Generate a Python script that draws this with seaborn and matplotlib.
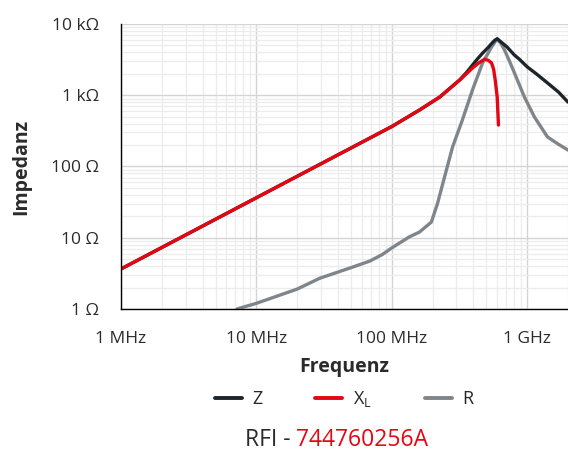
import matplotlib
matplotlib.use("Agg")
import matplotlib.pyplot as plt
import matplotlib.ticker as mticker
import pandas as pd
import seaborn as sns

# Impedanzkurven RFI 744760256A (Frequenz in MHz, Werte in Ohm)
z_freq = [1, 10, 100, 160, 226, 318, 357, 394, 430, 468, 510, 545, 575, 600, 640, 710,
          800, 875, 1000, 1170, 1410, 1700, 2000]
z_val = [3.64, 36.4, 364, 620, 945, 1650, 2100, 2650, 3250, 3900, 4600, 5300, 5900, 6200,
         5600, 4750, 3700, 3200, 2500, 1990, 1490, 1110, 800]

xl_freq = [1, 10, 100, 160, 226, 318, 394, 440, 483, 515, 545, 565, 580, 600, 613]
xl_val = [3.64, 36.4, 364, 620, 945, 1640, 2410, 2850, 3200, 3100, 2840, 2300, 1640, 945, 382]

r_freq = [7.2, 10, 20, 29.4, 50, 68.8, 85, 100, 135, 160, 196, 218, 245, 281, 332, 394,
          468, 545, 600, 640, 680, 740, 805, 953, 1130, 1410, 1700, 2000]
r_val = [1.0, 1.2, 1.9, 2.7, 3.8, 4.7, 5.8, 7.2, 10.3, 12, 16.6, 30.7, 71, 188, 450, 1185,
         2840, 4750, 6200, 5300, 4300, 3000, 2050, 945, 495, 260, 205, 170]

labels = ["Z", "X$_\\mathrm{L}$", "R"]
colors = ["#1d252c", "#e30613", "#7e868c"]

df = pd.concat([
    pd.DataFrame({"f": [v * 1e6 for v in z_freq], "val": z_val, "serie": labels[0]}),
    pd.DataFrame({"f": [v * 1e6 for v in xl_freq], "val": xl_val, "serie": labels[1]}),
    pd.DataFrame({"f": [v * 1e6 for v in r_freq], "val": r_val, "serie": labels[2]}),
])

sns.set_style("white")
plt.rcParams["font.family"] = ["Open Sans", "DejaVu Sans"]
plt.rcParams["mathtext.fontset"] = "custom"
plt.rcParams["mathtext.rm"] = "Open Sans"

fig = plt.figure(figsize=(5.68, 4.53), dpi=100)
ax = fig.add_axes([0.213, 0.318, 0.787, 0.629])

# R zuerst, dann Z, dann X_L oben
for name in [labels[2], labels[0], labels[1]]:
    sub = df[df["serie"] == name]
    sns.lineplot(data=sub, x="f", y="val", ax=ax, color=colors[labels.index(name)],
                 linewidth=2.4, sort=False, estimator=None, legend=False)

ax.set_xscale("log")
ax.set_yscale("log")
ax.set_xlim(1e6, 2e9)
ax.set_ylim(1, 1e4)

ax.set_xticks([1e6, 1e7, 1e8, 1e9])
ax.set_xticklabels(["1 MHz", "10 MHz", "100 MHz", "1 GHz"])
ax.set_yticks([1, 10, 100, 1e3, 1e4])
ax.set_yticklabels(["1 Ω", "10 Ω", "100 Ω", "1 kΩ", "10 kΩ"])
ax.xaxis.set_minor_locator(mticker.LogLocator(base=10, subs=range(2, 10), numticks=20))
ax.yaxis.set_minor_locator(mticker.LogLocator(base=10, subs=range(2, 10), numticks=20))
ax.xaxis.set_minor_formatter(mticker.NullFormatter())
ax.yaxis.set_minor_formatter(mticker.NullFormatter())

ax.grid(True, which="major", color="#d4d4d4", linewidth=1.0)
ax.grid(True, which="minor", color="#ececec", linewidth=0.9)
ax.set_axisbelow(True)

for s in ["top", "right"]:
    ax.spines[s].set_visible(False)
for s in ["left", "bottom"]:
    ax.spines[s].set_color("black")
    ax.spines[s].set_linewidth(1.0)

ax.tick_params(axis="both", which="major", direction="out", length=8, width=1,
               color="black", labelsize=12.5, labelcolor="#2b2b2b", pad=8)
ax.tick_params(axis="both", which="minor", length=0)

ax.set_xlabel("Frequenz", fontsize=14, fontweight="bold", color="#2b2b2b", labelpad=7)
ax.set_ylabel("Impedanz", fontsize=14, fontweight="bold", color="#2b2b2b", labelpad=14)

handles = [plt.Line2D([], [], color=c, linewidth=2.8) for c in colors]
fig.legend(handles, labels, loc="center", bbox_to_anchor=(0.606, 0.119), ncol=3,
           frameon=False, fontsize=13, handlelength=1.5, columnspacing=2.9, handletextpad=0.6)

fig.text(0.522, 0.029, "RFI - ", ha="right", va="center", fontsize=16.5, color="#2b2b2b")
fig.text(0.522, 0.029, "744760256A", ha="left", va="center", fontsize=16.5, color="#e30613")

fig.savefig("out.png", dpi=100)
